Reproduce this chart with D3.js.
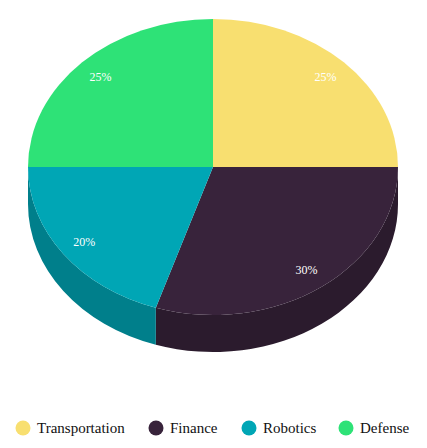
<!DOCTYPE html>
<html>
<head>
<meta charset="utf-8">
<script src="https://cdn.jsdelivr.net/npm/d3@7"></script>
<style>
  body { margin: 0; background: #fff; }
  svg { display: block; }
  text { font-family: "Liberation Serif", Tinos, "Times New Roman", Times, "DejaVu Serif", serif; }
</style>
</head>
<body>
<script>
// data
var categories = ["Transportation", "Finance", "Robotics", "Defense"];
var shares = [25, 30, 20, 25];
var colors = ["#f8df70", "#38233b", "#00a6b5", "#2ee277"];

var width = 427, height = 448;
var cx = 213, cy = 167, rx = 185, ry = 148, depth = 37;

var svg = d3.select("body").append("svg")
    .attr("width", width)
    .attr("height", height);

var data = categories.map(function (c, i) {
    return {label: c, value: shares[i], color: colors[i]};
});

var pie = d3.pie().sort(null).value(function (d) { return d.value; });
var slices = pie(data);

// point on the ellipse, angle measured clockwise from 12 o'clock
function pt(a, k, dy) {
    k = k == null ? 1 : k;
    return [cx + rx * k * Math.sin(a), cy - ry * k * Math.cos(a) + (dy || 0)];
}

function topPath(d) {
    var p0 = pt(d.startAngle), p1 = pt(d.endAngle);
    var large = d.endAngle - d.startAngle > Math.PI ? 1 : 0;
    return "M" + cx + "," + cy + "L" + p0 + "A" + rx + "," + ry + " 0 " + large + " 1 " + p1 + "Z";
}

// outer wall, only the front half (pi/2 .. 3pi/2) is seen
function sidePath(d) {
    var a0 = Math.max(d.startAngle, Math.PI / 2),
        a1 = Math.min(d.endAngle, Math.PI * 1.5);
    if (a1 <= a0) return null;
    var p0 = pt(a0), p1 = pt(a1), q0 = pt(a0, 1, depth), q1 = pt(a1, 1, depth);
    return "M" + p0 + "A" + rx + "," + ry + " 0 0 1 " + p1 +
        "L" + q1 + "A" + rx + "," + ry + " 0 0 0 " + q0 + "Z";
}

var g = svg.append("g");

g.append("g").attr("class", "sides")
    .selectAll("path")
    .data(slices.filter(function (d) { return sidePath(d); }))
    .enter().append("path")
    .attr("d", sidePath)
    .attr("fill", function (d) { return d3.color(d.data.color).darker(0.75); });

g.append("g").attr("class", "tops")
    .selectAll("path")
    .data(slices)
    .enter().append("path")
    .attr("d", topPath)
    .attr("fill", function (d) { return d.data.color; });

g.append("g").attr("class", "labels")
    .selectAll("text")
    .data(slices)
    .enter().append("text")
    .attr("x", function (d) { return pt((d.startAngle + d.endAngle) / 2, 0.86)[0]; })
    .attr("y", function (d) { return pt((d.startAngle + d.endAngle) / 2, 0.86)[1]; })
    .attr("dy", "0.35em")
    .attr("text-anchor", "middle")
    .attr("fill", "#fff")
    .attr("font-size", 12)
    .text(function (d) { return d.data.value + "%"; });

// legend
var legendX = [23, 156, 249, 346];
var legend = svg.append("g").attr("class", "legend")
    .selectAll("g")
    .data(data)
    .enter().append("g")
    .attr("transform", function (d, i) { return "translate(" + legendX[i] + ",428)"; });

legend.append("circle")
    .attr("r", 7.5)
    .attr("fill", function (d) { return d.color; });

legend.append("text")
    .attr("x", 14)
    .attr("dy", "0.35em")
    .attr("fill", "#111")
    .attr("font-size", 15)
    .text(function (d) { return d.label; });
</script>
</body>
</html>
